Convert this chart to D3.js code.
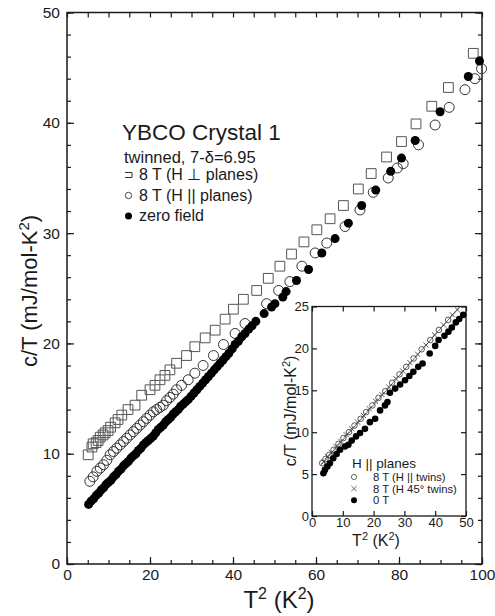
<!DOCTYPE html>
<html>
<head>
<meta charset="utf-8">
<script src="https://cdn.jsdelivr.net/npm/d3@7"></script>
<style>
  body { margin: 0; background: #fff; }
  svg { display: block; font-family: "Liberation Sans", Arial, Helvetica, sans-serif; }
</style>
</head>
<body>
<svg id="chart" width="495" height="616"></svg>
<script>
// ---- main panel data: [T^2 (K^2), c/T (mJ/mol-K^2)] ----
const perpPlanes8T = [
  [5.1,9.9],[6.0,10.6],[6.3,10.9],[7.0,11.0],[7.5,11.2],[8.0,11.5],[8.7,11.7],[9.2,11.9],[9.9,12.1],
  [10.5,12.4],[11.6,12.8],[12.3,13.1],[13.2,13.5],[14.7,14.0],[16.4,14.4],[18.0,15.3],[20.0,15.8],
  [21.2,16.2],[22.4,16.7],[23.6,17.1],[24.8,17.6],[26.4,18.2],[28.8,18.9],[30.8,19.7],[33.3,20.5],
  [35.7,21.2],[38.1,22.2],[40.1,23.1],[42.5,24.0],[45.7,24.8],[48.5,25.9],[51.3,27.0],[54.1,28.1],
  [57.1,29.2],[60.2,30.3],[63.4,31.3],[66.6,32.5],[70.2,34.0],[73.3,35.4],[77.0,36.9],[80.6,38.3],
  [84.1,39.9],[87.9,41.5],[91.9,43.2],[97.9,46.3]
];
const parPlanes8T = [
  [5.5,7.5],[6.3,7.9],[7.2,8.4],[8.0,8.7],[8.8,9.0],[9.6,9.4],[10.4,9.9],[11.2,10.2],[12.0,10.5],
  [12.8,10.8],[13.6,11.1],[14.4,11.4],[15.2,11.7],[16.0,12.0],[16.8,12.3],[17.6,12.6],[18.4,12.9],
  [19.2,13.2],[20.0,13.5],[20.8,13.8],[21.6,14.0],[22.4,14.2],[23.2,14.4],[24.0,14.8],[24.8,15.1],
  [25.6,15.4],[26.4,15.8],[27.6,16.2],[29.2,16.7],[30.8,17.3],[32.8,18.0],[35.3,18.9],[37.7,19.9],
  [40.5,20.9],[42.9,21.8],[48.1,23.6],[51.0,24.8],[53.7,25.6],[56.6,27.0],[59.8,28.2],[62.6,29.1],
  [67.0,30.6],[70.6,32.1],[73.8,33.7],[77.4,35.0],[79.6,35.9],[81.0,36.3],[84.7,38.0],[88.7,39.8],
  [92.1,41.4],[95.9,43.0],[98.3,44.0],[99.9,44.9]
];
const zeroField = [
  [5.2,5.4],[5.8,5.7],[6.4,5.9],[7.0,6.2],[7.6,6.4],[8.2,6.7],[8.8,6.9],[9.4,7.2],[10.0,7.4],
  [10.6,7.6],[11.2,7.9],[11.8,8.1],[12.4,8.4],[13.0,8.6],[13.6,8.9],[14.2,9.1],[14.8,9.3],[15.4,9.6],
  [16.0,9.8],[16.6,10.0],[17.2,10.3],[17.8,10.5],[18.4,10.8],[19.0,11.0],[19.6,11.2],[20.2,11.4],
  [20.8,11.6],[21.4,11.9],[22.0,12.2],[22.6,12.4],[23.2,12.6],[23.8,12.9],[24.4,13.1],[25.0,13.3],
  [25.6,13.6],[26.2,13.8],[26.8,14.0],[27.4,14.3],[28.0,14.5],[28.6,14.7],[29.2,14.9],[29.9,15.2],
  [30.6,15.5],[31.3,15.8],[32.0,16.1],[32.7,16.4],[33.4,16.7],[34.1,17.0],[34.8,17.3],[35.5,17.6],
  [36.2,17.9],[36.9,18.2],[37.6,18.5],[38.3,18.8],[39.0,19.1],[39.8,19.5],[40.5,19.9],[41.3,20.2],
  [42.1,20.6],[42.9,20.9],[43.8,21.3],[44.6,21.6],[45.5,22.0],[47.5,22.7],[49.3,23.3],[50.1,23.6],
  [52.0,24.2],[52.8,24.7],[55.3,25.7],[58.2,26.7],[61.4,28.2],[64.6,29.5],[67.8,30.9],[71.0,32.5],
  [74.4,33.9],[78.0,35.6],[80.6,36.8],[83.9,38.4],[89.9,41.0],[96.7,44.2],[99.4,45.6]
];

// ---- inset data: [T^2 (K^2), c/T (mJ/mol-K^2)], H || planes ----
const insetTwinsPar = [
  [3.3,6.3],[4.4,6.8],[5.6,7.3],[7.0,7.9],[8.6,8.6],[10.2,9.3],[12.0,10.0],[13.8,10.8],[15.8,11.6],
  [17.6,12.4],[19.6,13.2],[21.6,14.1],[23.8,14.9],[26.0,15.9],[28.4,16.9],[30.6,17.8],[33.0,18.8],
  [35.6,19.9],[38.4,21.0],[41.2,22.2],[44.2,23.4]
];
const insetTwins45 = [
  [3.8,6.5],[5.0,7.1],[6.3,7.6],[7.8,8.3],[9.4,8.9],[11.1,9.7],[12.9,10.4],[14.8,11.2],[16.7,12.0],
  [18.6,12.8],[20.6,13.7],[22.7,14.5],[24.9,15.4],[27.2,16.4],[29.5,17.3],[31.8,18.3],[34.3,19.3],
  [37.0,20.4],[39.8,21.6],[42.7,22.8],[45.6,24.0],[47.2,24.6]
];
const insetFit = [[3.0,6.1],[48.0,25.0]];
const inset0T = [
  [3.7,5.1],[4.2,5.5],[5.0,5.9],[5.8,6.3],[6.9,6.9],[8.0,7.4],[9.1,7.9],[10.7,8.3],[11.8,8.5],
  [12.9,9.0],[14.3,9.5],[15.6,9.9],[17.2,10.4],[18.8,11.2],[20.5,11.6],[22.1,12.6],[23.7,13.2],
  [24.5,13.6],[25.3,14.7],[27.0,15.2],[28.6,15.7],[30.2,16.2],[31.6,16.7],[32.9,17.2],[34.5,17.8],
  [35.9,18.2],[38.2,19.4],[40.0,20.3],[41.1,21.0],[43.0,21.5],[44.3,22.0],[45.4,22.5],[46.7,23.1],
  [47.8,23.5],[49.1,24.0]
];

const mainXTicks = [0, 20, 40, 60, 80, 100];
const mainYTicks = [0, 10, 20, 30, 40, 50];
const insetXTicks = [0, 10, 20, 30, 40, 50];
const insetYTicks = [0, 5, 10, 15, 20, 25];

const svg = d3.select("#chart");
const ink = "#1a1a1a";

// ---------------- main panel ----------------
const x = d3.scaleLinear().domain([0, 100]).range([67, 482]);
const y = d3.scaleLinear().domain([0, 50]).range([564, 12.5]);

function styleAxis(g, fontSize) {
  g.select(".domain").remove();
  g.selectAll(".tick line").attr("stroke", ink).attr("stroke-width", 1.2);
  g.selectAll(".tick text").attr("fill", ink).style("font-size", fontSize + "px")
    .style("font-family", "'Liberation Sans', Arial, sans-serif");
}

// minor ticks
svg.append("g").attr("transform", `translate(0,${y(0)})`)
  .call(d3.axisBottom(x).tickValues(d3.range(0, 101, 5)).tickSize(-4).tickFormat(""))
  .call(g => styleAxis(g, 10));
svg.append("g").attr("transform", `translate(${x(0)},0)`)
  .call(d3.axisLeft(y).tickValues(d3.range(0, 51, 2)).tickSize(-4).tickFormat(""))
  .call(g => styleAxis(g, 10));
svg.append("g").attr("transform", `translate(0,${y(50)})`)
  .call(d3.axisTop(x).tickValues(d3.range(0, 101, 5)).tickSize(-5).tickFormat(""))
  .call(g => styleAxis(g, 10));
svg.append("g").attr("transform", `translate(${x(100)},0)`)
  .call(d3.axisRight(y).tickValues(d3.range(0, 51, 2)).tickSize(-4).tickFormat(""))
  .call(g => styleAxis(g, 10));
svg.append("g").attr("transform", `translate(${x(100)},0)`)
  .call(d3.axisRight(y).tickValues(mainYTicks).tickSize(-7).tickFormat(""))
  .call(g => styleAxis(g, 10));

// major ticks with labels
svg.append("g").attr("transform", `translate(0,${y(0)})`)
  .call(d3.axisBottom(x).tickValues(mainXTicks).tickSize(-7).tickPadding(5))
  .call(g => styleAxis(g, 15.5));
svg.append("g").attr("transform", `translate(${x(0)},0)`)
  .call(d3.axisLeft(y).tickValues(mainYTicks).tickSize(-7).tickPadding(7))
  .call(g => styleAxis(g, 15.5));

// frame
svg.append("rect")
  .attr("x", x(0)).attr("y", y(50))
  .attr("width", x(100) - x(0)).attr("height", y(0) - y(50))
  .attr("fill", "none").attr("stroke", ink).attr("stroke-width", 1.5);

// data
const sq = d3.symbol().type(d3.symbolSquare).size(95);
svg.append("g").selectAll("path").data(perpPlanes8T).join("path")
  .attr("d", sq)
  .attr("transform", d => `translate(${x(d[0])},${y(d[1])})`)
  .attr("fill", "none").attr("stroke", "#555").attr("stroke-width", 1);

svg.append("g").selectAll("circle").data(parPlanes8T).join("circle")
  .attr("cx", d => x(d[0])).attr("cy", d => y(d[1])).attr("r", 5)
  .attr("fill", "none").attr("stroke", "#333").attr("stroke-width", 1);

svg.append("g").selectAll("circle").data(zeroField).join("circle")
  .attr("cx", d => x(d[0])).attr("cy", d => y(d[1])).attr("r", 4.5)
  .attr("fill", "#000");

// axis titles
const yTitle = svg.append("text")
  .attr("transform", "translate(37,291) rotate(-90)")
  .attr("text-anchor", "middle").attr("fill", ink).style("font-size", "22px");
yTitle.append("tspan").text("c/T (mJ/mol-K");
yTitle.append("tspan").attr("dy", -8).style("font-size", "15px").text("2");
yTitle.append("tspan").attr("dy", 8).text(")");

const xTitle = svg.append("text")
  .attr("x", 279).attr("y", 608)
  .attr("text-anchor", "middle").attr("fill", ink).style("font-size", "24px");
xTitle.append("tspan").text("T");
xTitle.append("tspan").attr("dy", -9).style("font-size", "16px").text("2");
xTitle.append("tspan").attr("dy", 9).text(" (K");
xTitle.append("tspan").attr("dy", -9).style("font-size", "16px").text("2");
xTitle.append("tspan").attr("dy", 9).text(")");

// legend
svg.append("text").attr("x", 122).attr("y", 140).attr("fill", ink)
  .style("font-size", "22.5px").text("YBCO Crystal 1");
svg.append("text").attr("x", 124).attr("y", 163).attr("fill", ink)
  .style("font-size", "16.5px").text("twinned, 7-δ=6.95");
const legendRows = ["8 T (H ⊥ planes)", "8 T (H || planes)", "zero field"];
legendRows.forEach((label, i) => {
  svg.append("text").attr("x", 139).attr("y", 180 + i * 20.5).attr("fill", ink)
    .style("font-size", "16px").text(label);
});
svg.append("path").attr("d", "M125,172.5H132V177.5H125")
  .attr("fill", "none").attr("stroke", "#333").attr("stroke-width", 1);
svg.append("circle").attr("cx", 128.5).attr("cy", 195.5).attr("r", 3.2)
  .attr("fill", "none").attr("stroke", "#333").attr("stroke-width", 0.9);
svg.append("circle").attr("cx", 128.5).attr("cy", 216).attr("r", 3.5).attr("fill", "#000");

// ---------------- inset ----------------
const ix = d3.scaleLinear().domain([0, 50]).range([312, 466]);
const iy = d3.scaleLinear().domain([0, 25]).range([516, 306.5]);

svg.append("rect")
  .attr("x", ix(0)).attr("y", iy(25))
  .attr("width", ix(50) - ix(0)).attr("height", iy(0) - iy(25))
  .attr("fill", "#fff");

svg.append("g").attr("transform", `translate(0,${iy(0)})`)
  .call(d3.axisBottom(ix).tickValues(insetXTicks).tickSize(-5).tickPadding(2))
  .call(g => styleAxis(g, 13));
svg.append("g").attr("transform", `translate(${ix(0)},0)`)
  .call(d3.axisLeft(iy).tickValues(insetYTicks).tickSize(-5).tickPadding(3))
  .call(g => styleAxis(g, 13));
svg.append("g").attr("transform", `translate(0,${iy(25)})`)
  .call(d3.axisTop(ix).tickValues(insetXTicks).tickSize(-5).tickFormat(""))
  .call(g => styleAxis(g, 10));
svg.append("g").attr("transform", `translate(${ix(50)},0)`)
  .call(d3.axisRight(iy).tickValues(insetYTicks).tickSize(-5).tickFormat(""))
  .call(g => styleAxis(g, 10));

svg.append("rect")
  .attr("x", ix(0)).attr("y", iy(25))
  .attr("width", ix(50) - ix(0)).attr("height", iy(0) - iy(25))
  .attr("fill", "none").attr("stroke", ink).attr("stroke-width", 1.3);

svg.append("path").datum(insetFit)
  .attr("d", d3.line().x(d => ix(d[0])).y(d => iy(d[1])))
  .attr("fill", "none").attr("stroke", "#333").attr("stroke-width", 0.7);

svg.append("g").selectAll("circle").data(insetTwinsPar).join("circle")
  .attr("cx", d => ix(d[0])).attr("cy", d => iy(d[1])).attr("r", 2.8)
  .attr("fill", "none").attr("stroke", "#333").attr("stroke-width", 0.8);

const xMark = "M-2.6,-2.6L2.6,2.6M-2.6,2.6L2.6,-2.6";
svg.append("g").selectAll("path").data(insetTwins45).join("path")
  .attr("d", xMark)
  .attr("transform", d => `translate(${ix(d[0])},${iy(d[1])})`)
  .attr("fill", "none").attr("stroke", "#333").attr("stroke-width", 0.8);

svg.append("g").selectAll("circle").data(inset0T).join("circle")
  .attr("cx", d => ix(d[0])).attr("cy", d => iy(d[1])).attr("r", 3.3)
  .attr("fill", "#000");

// inset titles
const iyTitle = svg.append("text")
  .attr("transform", "translate(296,411) rotate(-90)")
  .attr("text-anchor", "middle").attr("fill", ink).style("font-size", "16px");
iyTitle.append("tspan").text("c/T (mJ/mol-K");
iyTitle.append("tspan").attr("dy", -6).style("font-size", "11px").text("2");
iyTitle.append("tspan").attr("dy", 6).text(")");

const ixTitle = svg.append("text")
  .attr("x", 376).attr("y", 546)
  .attr("text-anchor", "middle").attr("fill", ink).style("font-size", "16px");
ixTitle.append("tspan").text("T");
ixTitle.append("tspan").attr("dy", -6).style("font-size", "11px").text("2");
ixTitle.append("tspan").attr("dy", 6).text(" (K");
ixTitle.append("tspan").attr("dy", -6).style("font-size", "11px").text("2");
ixTitle.append("tspan").attr("dy", 6).text(")");

// inset legend
svg.append("text").attr("x", 352).attr("y", 468).attr("fill", ink)
  .style("font-size", "13.5px").text("H || planes");
const insetRows = ["8 T (H || twins)", "8 T (H 45° twins)", "0 T"];
insetRows.forEach((label, i) => {
  svg.append("text").attr("x", 373).attr("y", 481 + i * 11.6).attr("fill", ink)
    .style("font-size", "11.3px").text(label);
});
svg.append("circle").attr("cx", 354).attr("cy", 477).attr("r", 2.6)
  .attr("fill", "none").attr("stroke", "#444").attr("stroke-width", 0.8);
svg.append("path").attr("d", xMark).attr("transform", "translate(354,488.6)")
  .attr("fill", "none").attr("stroke", "#444").attr("stroke-width", 0.8);
svg.append("circle").attr("cx", 354).attr("cy", 500.2).attr("r", 3).attr("fill", "#000");
</script>
</body>
</html>
